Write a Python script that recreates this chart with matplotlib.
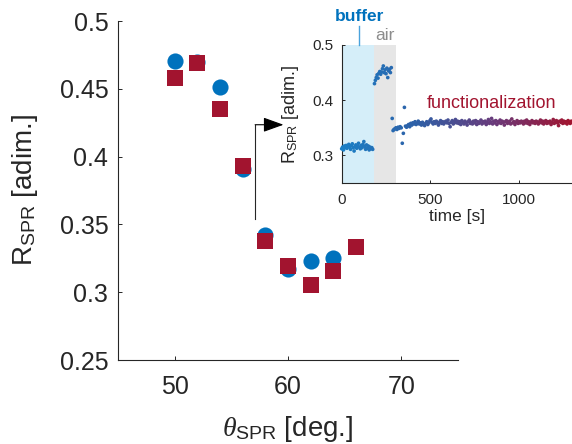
import matplotlib
matplotlib.use("Agg")
import matplotlib.pyplot as plt
import numpy as np
from matplotlib.colors import LinearSegmentedColormap

# --- main plot: R_SPR vs angle ---
theta_circ = [50, 52, 54, 56, 58, 60, 62, 64]
r_circ = [0.4705, 0.470, 0.451, 0.391, 0.342, 0.317, 0.323, 0.325]
theta_sq = [50, 52, 54, 56, 58, 60, 62, 64, 66]
r_sq = [0.458, 0.469, 0.435, 0.393, 0.338, 0.319, 0.305, 0.316, 0.333]

# --- inset: R_SPR vs time ---
t_buffer = [0, 5, 10, 15, 20, 25, 30, 35, 40, 45, 50, 55, 60, 65, 70, 75, 80, 85,
            90, 95, 100, 105, 110, 115, 120, 125, 130, 135, 140, 145, 150, 155,
            160, 165, 170, 175]
r_buffer = [0.312, 0.315, 0.310, 0.317, 0.314, 0.318, 0.313, 0.316, 0.320, 0.315,
            0.311, 0.318, 0.321, 0.314, 0.308, 0.316, 0.319, 0.313, 0.317, 0.322,
            0.315, 0.312, 0.318, 0.314, 0.320, 0.325, 0.316, 0.311, 0.319, 0.313,
            0.317, 0.310, 0.315, 0.312, 0.314, 0.311]
t_air = [185, 190, 195, 200, 205, 210, 215, 220, 225, 230, 235, 240, 245, 250,
         255, 260, 265, 270, 275, 280, 285, 290, 295]
r_air = [0.430, 0.436, 0.441, 0.446, 0.440, 0.449, 0.452, 0.447, 0.451, 0.457,
         0.462, 0.450, 0.455, 0.448, 0.458, 0.441, 0.453, 0.456, 0.450, 0.459,
         0.367, 0.345, 0.347]
t_func = [300, 306, 312, 318, 324, 330, 336, 342, 348, 354, 360, 366,
          372, 378, 384, 390, 396, 402, 408, 414, 420, 426, 432, 438,
          444, 450, 456, 462, 468, 474, 480, 486, 492, 498, 504, 510,
          516, 522, 528, 534, 540, 546, 552, 558, 564, 570, 576, 582,
          588, 594, 600, 606, 612, 618, 624, 630, 636, 642, 648, 654,
          660, 666, 672, 678, 684, 690, 696, 702, 708, 714, 720, 726,
          732, 738, 744, 750, 756, 762, 768, 774, 780, 786, 792, 798,
          804, 810, 816, 822, 828, 834, 840, 846, 852, 858, 864, 870,
          876, 882, 888, 894, 900, 906, 912, 918, 924, 930, 936, 942,
          948, 954, 960, 966, 972, 978, 984, 990, 996, 1002, 1008, 1014,
          1020, 1026, 1032, 1038, 1044, 1050, 1056, 1062, 1068, 1074, 1080, 1086,
          1092, 1098, 1104, 1110, 1116, 1122, 1128, 1134, 1140, 1146, 1152, 1158,
          1164, 1170, 1176, 1182, 1188, 1194, 1200, 1206, 1212, 1218, 1224, 1230,
          1236, 1242, 1248, 1254, 1260, 1266, 1272, 1278, 1284, 1290, 1296]
r_func = [0.348, 0.350, 0.347, 0.351, 0.349, 0.352, 0.350, 0.322, 0.340, 0.387, 0.353, 0.351,
          0.354, 0.356, 0.352, 0.358, 0.355, 0.359, 0.357, 0.361, 0.356, 0.358, 0.362, 0.357,
          0.359, 0.355, 0.360, 0.357, 0.354, 0.358, 0.361, 0.356, 0.359, 0.363, 0.366, 0.360,
          0.357, 0.361, 0.358, 0.362, 0.359, 0.355, 0.360, 0.363, 0.358, 0.361, 0.357, 0.360,
          0.362, 0.359, 0.364, 0.358, 0.352, 0.360, 0.363, 0.357, 0.361, 0.365, 0.359, 0.362,
          0.358, 0.361, 0.356, 0.363, 0.360, 0.357, 0.362, 0.359, 0.355, 0.361, 0.364, 0.358,
          0.360, 0.357, 0.362, 0.359, 0.363, 0.356, 0.361, 0.358, 0.360, 0.364, 0.357, 0.361,
          0.359, 0.362, 0.356, 0.360, 0.365, 0.358, 0.361, 0.367, 0.357, 0.362, 0.359, 0.363,
          0.356, 0.361, 0.359, 0.364, 0.358, 0.362, 0.360, 0.355, 0.361, 0.363, 0.358, 0.360,
          0.362, 0.357, 0.366, 0.359, 0.361, 0.356, 0.360, 0.363, 0.358, 0.361, 0.359, 0.362,
          0.360, 0.357, 0.362, 0.359, 0.364, 0.358, 0.361, 0.356, 0.360, 0.363, 0.359, 0.361,
          0.358, 0.362, 0.360, 0.357, 0.361, 0.364, 0.359, 0.362, 0.357, 0.360, 0.363, 0.358,
          0.361, 0.359, 0.362, 0.356, 0.360, 0.365, 0.358, 0.361, 0.363, 0.359, 0.354, 0.362,
          0.360, 0.364, 0.358, 0.362, 0.359, 0.361, 0.357, 0.363, 0.360, 0.358, 0.362]

buffer_end = 182
air_end = 305

BLUE = "#0072BD"
RED = "#A2142F"
DARK = "#262626"

plt.rcParams["font.family"] = ["Liberation Sans", "DejaVu Sans"]
plt.rcParams["mathtext.fontset"] = "custom"
plt.rcParams["mathtext.rm"] = "Liberation Sans"
plt.rcParams["mathtext.it"] = "Liberation Serif:italic"
plt.rcParams["axes.edgecolor"] = DARK
plt.rcParams["xtick.color"] = DARK
plt.rcParams["ytick.color"] = DARK

fig = plt.figure(figsize=(5.72, 4.44), dpi=100)
W, H = 572, 444

# main axes
ax = fig.add_axes([118 / W, (H - 360) / H, 340 / W, 339 / H])
ax.scatter(theta_circ, r_circ, s=135, marker="o", color=BLUE, linewidths=0, zorder=3)
ax.scatter(theta_sq, r_sq, s=130, marker="s", color=RED, linewidths=0, zorder=4)
ax.set_xlim(45, 75)
ax.set_ylim(0.25, 0.5)
ax.set_xticks([50, 60, 70])
ax.set_yticks([0.25, 0.3, 0.35, 0.4, 0.45, 0.5])
ax.set_yticklabels(["0.25", "0.3", "0.35", "0.4", "0.45", "0.5"])
ax.tick_params(direction="in", length=3, width=0.7, labelsize=18)
ax.tick_params(axis="y", pad=7)
ax.tick_params(axis="x", pad=11)
for side in ["top", "right"]:
    ax.spines[side].set_visible(False)
for side in ["left", "bottom"]:
    ax.spines[side].set_linewidth(0.8)
ax.set_ylabel(r"R$_{\mathrm{SPR}}$ [adim.]", fontsize=20, color=DARK)
ax.yaxis.set_label_coords(-0.23, 0.5)
ax.set_xlabel(r"$\theta_{\mathrm{SPR}}$ [deg.]", fontsize=20, color=DARK)
ax.xaxis.set_label_coords(0.5, -0.16)

# arrow pointing to the inset
arrow_x0, arrow_y0 = 57.1, 0.354
arrow_y1, arrow_x1 = 0.4235, 59.6
ax.plot([arrow_x0, arrow_x0], [arrow_y0, arrow_y1], color=DARK, lw=0.8, zorder=2)
ax.annotate("", xy=(arrow_x1, arrow_y1), xytext=(arrow_x0, arrow_y1),
            arrowprops=dict(arrowstyle="-|>,head_length=1.25,head_width=0.45",
                            mutation_scale=10, color="black", lw=0.8,
                            shrinkA=0, shrinkB=0))

# inset axes
ins = fig.add_axes([341.7 / W, (H - 183) / H, (W - 341.7) / W, 138 / H])
ins.axvspan(0, buffer_end, color="#d5eef9", lw=0, zorder=0)
ins.axvspan(buffer_end, air_end, color="#e6e6e6", lw=0, zorder=0)

t_all = np.concatenate([t_buffer, t_air, t_func])
r_all = np.concatenate([r_buffer, r_air, r_func])
cmap = LinearSegmentedColormap.from_list("br", ["#1a7fc6", "#2f5fa6", "#6a3a7a", RED])
ins.scatter(t_all, r_all, c=t_all, cmap=cmap, vmin=0, vmax=1300, s=7,
            linewidths=0, zorder=3, clip_on=False)
ins.set_xlim(0, 1300)
ins.set_ylim(0.25, 0.5)
ins.set_xticks([0, 500, 1000])
ins.set_yticks([0.3, 0.4, 0.5])
ins.set_yticklabels(["0.3", "0.4", "0.5"])
ins.tick_params(direction="in", length=2.5, width=0.7, labelsize=11)
ins.tick_params(axis="y", pad=6)
ins.tick_params(axis="x", pad=7)
for side in ["top", "right"]:
    ins.spines[side].set_visible(False)
for side in ["left", "bottom"]:
    ins.spines[side].set_linewidth(0.8)
ins.set_xlabel("time [s]", fontsize=12.5, color=DARK, labelpad=2)
ins.set_ylabel(r"R$_{\mathrm{SPR}}$ [adim.]", fontsize=13, color=DARK)
ins.yaxis.set_label_coords(-0.175, 0.5)

# region labels
ins.plot([98, 98], [0.5, 0.535], color="#4aa3dc", lw=1.0, clip_on=False)
ins.text(100, 0.538, "buffer", color=BLUE, fontsize=12.5, fontweight="bold",
         ha="center", va="bottom")
ins.text(air_end - 6, 0.503, "air", color="#8c8c8c", fontsize=12.5,
         ha="right", va="bottom")
ins.text(845, 0.379, "functionalization", color=RED, fontsize=13,
         ha="center", va="bottom")

fig.savefig("out.png", dpi=100)
